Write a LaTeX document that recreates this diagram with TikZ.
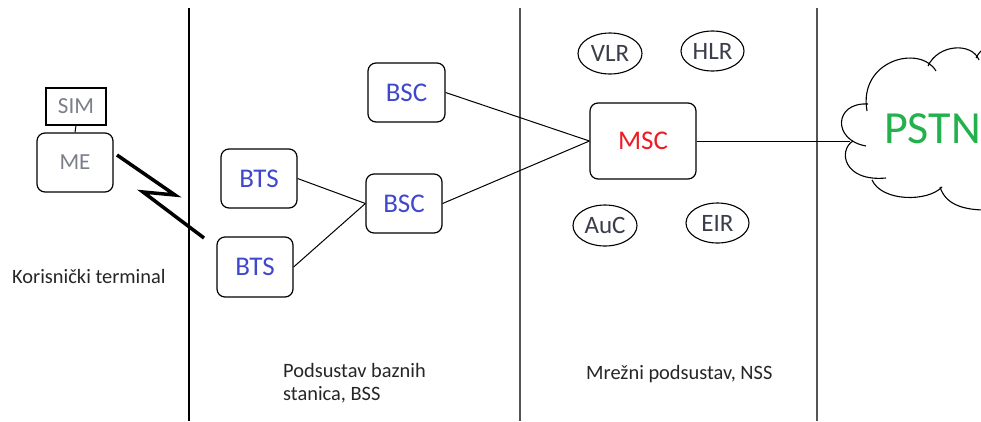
\documentclass[tikz,border=0pt]{standalone}
\usepackage{fontspec}
\setmainfont{Carlito}
\usetikzlibrary{shapes.geometric}
\definecolor{paintblue}{HTML}{3F48CC}
\definecolor{paintred}{HTML}{ED1C24}
\definecolor{paintgreen}{HTML}{22B14C}
\definecolor{boxgray}{HTML}{7A7F8A}
\definecolor{dbtext}{HTML}{3A3D4A}
\definecolor{sepgray}{HTML}{555555}
\tikzset{
  unitbox/.style={draw=black, line width=1.2pt, rounded corners=8pt, inner sep=0pt, font=\fontsize{27}{30}\selectfont},
  dbell/.style={draw=black, line width=1.1pt, ellipse, inner sep=0pt, minimum width=64pt, minimum height=41pt, text=dbtext, font=\fontsize{25}{28}\selectfont},
  link/.style={draw=black, line width=1pt},
  sep/.style={line width=2pt},
  caption/.style={anchor=base west, inner sep=0pt, text=black!85, font=\fontsize{20.4}{24}\selectfont},
  cloudline/.style={draw=black, line width=1.1pt},
}
\begin{document}
\begin{tikzpicture}[x=1pt, y=-1pt]
\useasboundingbox (0,0) rectangle (981,421);
\clip (0,0) rectangle (981,421);
\fill[white] (0,0) rectangle (981,421);

% separators
\coordinate (s1t) at (188.5,8); \coordinate (s1b) at (188.5,421);
\coordinate (s2t) at (519.5,8); \coordinate (s2b) at (519.5,421);
\coordinate (s3t) at (816.5,8); \coordinate (s3b) at (816.5,421);
\draw[sep, black] (s1t) -- (s1b);
\draw[sep, sepgray] (s2t) -- (s2b);
\draw[sep, sepgray] (s3t) -- (s3b);

% terminal
\node[draw=black, line width=1.2pt, inner sep=0pt, minimum width=60pt, minimum height=37pt, text=boxgray, font=\fontsize{23}{26}\selectfont] (sim) at (76,106.5) {SIM};
\node[unitbox, minimum width=76pt, minimum height=59pt, text=boxgray, font=\fontsize{23}{26}\selectfont] (me) at (75,162.5) {ME};
\draw[link] (sim.south) -- (me.north);

% radio link
\coordinate (z1) at (117,155);
\coordinate (z2) at (175,195);
\coordinate (z3) at (143,192);
\coordinate (z4) at (204,238);
\draw[line width=3.5pt, line join=miter] (z1) -- (z2) -- (z3) -- (z4);

% BSS
\node[unitbox, minimum width=76pt, minimum height=59pt, text=paintblue] (bts1) at (259,178.5) {BTS};
\node[unitbox, minimum width=76pt, minimum height=60pt, text=paintblue] (bts2) at (255,267) {BTS};
\node[unitbox, minimum width=77pt, minimum height=59pt, text=paintblue] (bsc1) at (406.5,92.5) {BSC};
\node[unitbox, minimum width=76pt, minimum height=59pt, text=paintblue] (bsc2) at (404,203.5) {BSC};

% NSS
\node[unitbox, minimum width=106pt, minimum height=76pt, text=paintred] (msc) at (643,141) {MSC};
\node[dbell] (vlr) at (610,53.5) {VLR};
\node[dbell, minimum width=63pt, minimum height=40pt] (hlr) at (712.5,51) {HLR};
\node[dbell] (auc) at (605,225.5) {AuC};
\node[dbell, minimum width=63pt, minimum height=40pt] (eir) at (717.5,223) {EIR};

% links
\draw[link] (bts1.east) -- (bsc2.west);
\draw[link] (bts2.east) -- (bsc2.west);
\draw[link] (bsc1.east) -- (msc.west);
\draw[link] (bsc2.east) -- (msc.west);
\coordinate (cloudin) at (850,139);
\draw[link] (msc.east) -- (msc.east -| cloudin);

% cloud
\draw[cloudline] (866,146) .. controls (832,140) and (834,102) .. (868,104);
\draw[cloudline] (867,111) .. controls (858,60) and (920,44) .. (936,71);
\draw[cloudline] (928,66) .. controls (938,44) and (972,42) .. (979,60);
\draw[cloudline] (976,58) .. controls (980,50) and (986,46) .. (995,45);
\draw[cloudline] (853,141) .. controls (838,150) and (843,182) .. (886,178);
\draw[cloudline] (872,180) .. controls (882,202) and (928,202) .. (942,187);
\draw[cloudline] (940,187) .. controls (946,206) and (966,211) .. (995,210);
\node[anchor=base west, inner sep=0pt, text=paintgreen, font=\fontsize{46}{50}\selectfont] (pstn) at (884,143) {PSTN};

% captions
\node[caption] (term) at (12,283) {Korisnički terminal};
\node[caption] (bss1) at (283,377) {Podsustav baznih};
\node[caption] (bss2) at (283,400) {stanica, BSS};
\node[caption] (nss) at (586,379) {Mrežni podsustav, NSS};
\end{tikzpicture}
\end{document}
